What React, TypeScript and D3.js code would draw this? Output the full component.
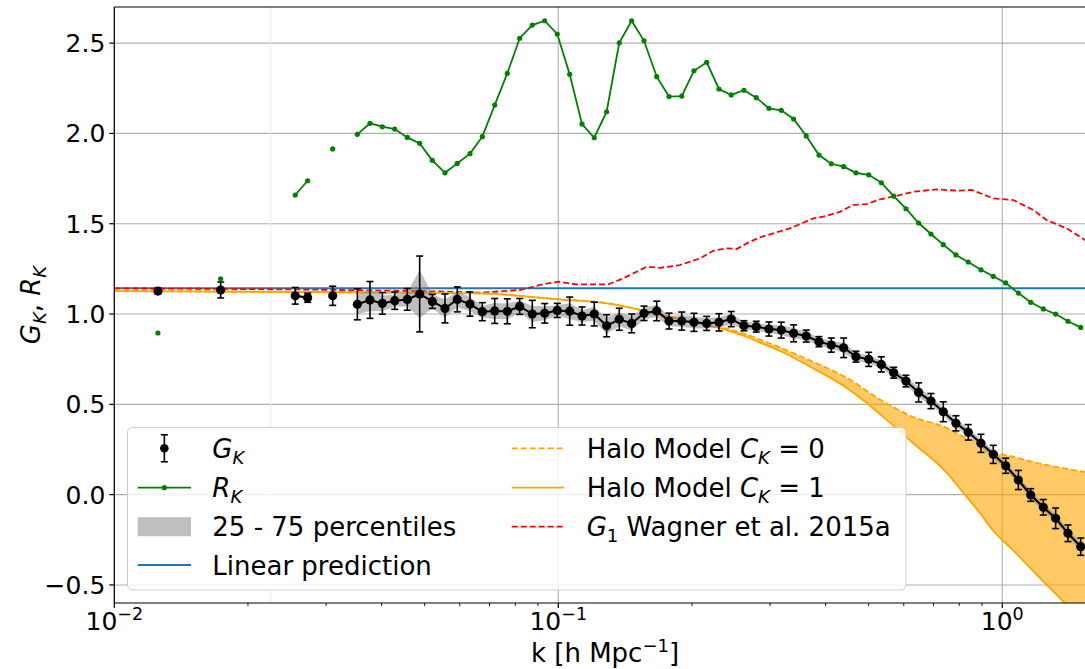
import React from 'react';
import * as d3 from 'd3';

// Wavenumber bins k [h/Mpc]
const kBins = [0.01254, 0.01736, 0.02556, 0.02726, 0.03104, 0.03527, 0.03766, 0.04016, 0.04282, 0.0457,
  0.04873, 0.05203, 0.05557, 0.05922, 0.06326, 0.06743, 0.07191, 0.07677, 0.08187, 0.08739,
  0.0932, 0.09948, 0.1061, 0.1131, 0.1205, 0.1285, 0.1372, 0.1463, 0.156, 0.1666,
  0.1776, 0.1897, 0.2021, 0.2159, 0.2301, 0.2452, 0.2619, 0.2792, 0.2982, 0.3178,
  0.3389, 0.3618, 0.3865, 0.412, 0.4393, 0.4682, 0.5002, 0.534, 0.5694, 0.6069,
  0.6481, 0.6908, 0.7364, 0.7865, 0.8383, 0.8953, 0.9544, 1.018, 1.087, 1.159,
  1.237, 1.319, 1.406, 1.502];

// Measured tidal response G_K with error bars
const gK = [1.127, 1.133, 1.101, 1.09, 1.101, 1.054, 1.078, 1.059, 1.074, 1.081,
  1.111, 1.07, 1.031, 1.081, 1.055, 1.013, 1.017, 1.015, 1.042, 1.0,
  1.004, 1.02, 1.016, 0.989, 1.0, 0.935, 0.971, 0.948, 1.004, 1.017,
  0.961, 0.961, 0.954, 0.948, 0.954, 0.972, 0.935, 0.93, 0.917, 0.911,
  0.893, 0.878, 0.847, 0.828, 0.813, 0.764, 0.749, 0.721, 0.675, 0.629,
  0.566, 0.518, 0.459, 0.395, 0.345, 0.284, 0.223, 0.16, 0.081, -0.002,
  -0.07, -0.131, -0.214, -0.288];
const gKErr = [0.015, 0.044, 0.046, 0.025, 0.053, 0.086, 0.102, 0.06, 0.048, 0.06,
  0.21, 0.039, 0.08, 0.069, 0.067, 0.05, 0.069, 0.069, 0.044, 0.076,
  0.054, 0.039, 0.078, 0.05, 0.066, 0.061, 0.061, 0.052, 0.04, 0.054,
  0.044, 0.05, 0.05, 0.039, 0.048, 0.042, 0.028, 0.03, 0.039, 0.044,
  0.047, 0.033, 0.028, 0.039, 0.054, 0.03, 0.039, 0.042, 0.03, 0.032,
  0.053, 0.042, 0.055, 0.042, 0.043, 0.05, 0.05, 0.042, 0.053, 0.035,
  0.043, 0.057, 0.046, 0.048];
// Half width of the 25-75 percentile range
const gKIqrHalf = [0.005, 0.005, 0.008, 0.008, 0.008, 0.055, 0.061, 0.044, 0.033, 0.039,
  0.133, 0.039, 0.05, 0.044, 0.039, 0.033, 0.044, 0.044, 0.033, 0.044,
  0.039, 0.028, 0.044, 0.033, 0.039, 0.044, 0.039, 0.039, 0.033, 0.033,
  0.028, 0.033, 0.033, 0.028, 0.028, 0.028, 0.022, 0.022, 0.022, 0.028,
  0.028, 0.022, 0.022, 0.022, 0.028, 0.022, 0.022, 0.022, 0.022, 0.022,
  0.028, 0.022, 0.022, 0.022, 0.022, 0.022, 0.022, 0.022, 0.022, 0.022,
  0.022, 0.022, 0.022, 0.022];

// R_K
const rK = [0.895, 1.195, 1.659, 1.738, 1.914, 1.995, 2.056, 2.037, 2.024, 1.978,
  1.945, 1.851, 1.782, 1.834, 1.888, 1.982, 2.157, 2.333, 2.527, 2.6,
  2.624, 2.55, 2.327, 2.052, 1.976, 2.12, 2.502, 2.624, 2.513, 2.314,
  2.204, 2.207, 2.347, 2.394, 2.246, 2.213, 2.239, 2.198, 2.139, 2.128,
  2.08, 1.986, 1.88, 1.832, 1.816, 1.782, 1.771, 1.727, 1.653, 1.583,
  1.504, 1.443, 1.384, 1.327, 1.288, 1.245, 1.209, 1.172, 1.116, 1.065,
  1.028, 1.0, 0.96, 0.926];

// Halo model predictions
const haloK = [0.01, 0.0262, 0.0666, 0.0998, 0.1287, 0.145, 0.1669, 0.1879, 0.2231, 0.2475,
  0.2661, 0.2846, 0.3158, 0.3747, 0.447, 0.5304, 0.6293, 0.7507, 0.817, 0.8907,
  0.9544, 1.057, 1.216, 1.384, 1.6];
const haloC1 = [1.127, 1.122, 1.114, 1.081, 1.059, 1.035, 0.998, 0.972, 0.93, 0.9,
  0.873, 0.842, 0.795, 0.7, 0.59, 0.446, 0.286, 0.12, 0.01, -0.102,
  -0.2, -0.307, -0.462, -0.601, -0.77];
const haloC0 = [1.127, 1.122, 1.114, 1.082, 1.06, 1.036, 1.0, 0.975, 0.936, 0.91,
  0.886, 0.858, 0.815, 0.736, 0.646, 0.527, 0.431, 0.369, 0.321, 0.28,
  0.238, 0.21, 0.172, 0.145, 0.118];

// G_1 from Wagner et al. 2015a
const wagnerK = [0.01, 0.0156, 0.0262, 0.0397, 0.0541, 0.0666, 0.082, 0.0909, 0.1, 0.11,
  0.1296, 0.1401, 0.1582, 0.1695, 0.1879, 0.2085, 0.2234, 0.2394, 0.2522, 0.2657,
  0.2846, 0.305, 0.3325, 0.3502, 0.3753, 0.3953, 0.431, 0.4616, 0.495, 0.5304,
  0.5682, 0.6303, 0.7116, 0.7894, 0.8533, 0.9544, 1.059, 1.175, 1.259, 1.397,
  1.536, 1.6];
const wagnerG1 = [1.142, 1.14, 1.136, 1.13, 1.125, 1.118, 1.133, 1.161, 1.179, 1.164,
  1.164, 1.198, 1.262, 1.256, 1.271, 1.308, 1.35, 1.364, 1.36, 1.391,
  1.425, 1.447, 1.474, 1.498, 1.53, 1.539, 1.566, 1.604, 1.609, 1.635,
  1.65, 1.677, 1.69, 1.683, 1.687, 1.641, 1.631, 1.576, 1.52, 1.474,
  1.41, 1.38];

const linearG = 8 / 7;
const markerK = 0.0225;

const yTicks = [-0.5, 0.0, 0.5, 1.0, 1.5, 2.0, 2.5];
const xMajor = [0.01, 0.1, 1];
const xMajorExp = ['\u22122', '\u22121', '0'];
const xMinor = [0.02, 0.03, 0.04, 0.05, 0.06, 0.07, 0.08, 0.09, 0.2, 0.3, 0.4, 0.5, 0.6, 0.7, 0.8, 0.9];

const W = 1085;
const H = 669;
const LEFT = 114.3;
const TOP = 7;
const BOTTOM = 603;
const RIGHT = 1092.9;
const FONT = 'DejaVu Sans';

const ORANGE = '#ffa500';
const GREEN = '#008000';
const BLUE = '#1f77b4';

export default function App() {
  const x = d3.scaleLog().domain([0.01, 1.6]).range([LEFT, RIGHT]);
  const y = d3.scaleLinear().domain([-0.6, 2.7]).range([BOTTOM, TOP]);

  // split points into runs of adjacent bins
  const seg: number[] = [];
  kBins.forEach((k, i) => {
    if (i === 0) seg.push(0);
    else seg.push(Math.log10(k / kBins[i - 1]) > 0.04 ? seg[i - 1] + 1 : seg[i - 1]);
  });
  const runs: number[][] = [];
  seg.forEach((s, i) => {
    if (!runs[s]) runs[s] = [];
    runs[s].push(i);
  });

  const lineIdx = (vals: number[]) =>
    d3.line<number>().x((i) => x(kBins[i])).y((i) => y(vals[i]));
  const bandArea = d3
    .area<number>()
    .x((i) => x(kBins[i]))
    .y0((i) => y(gK[i] - gKIqrHalf[i]))
    .y1((i) => y(gK[i] + gKIqrHalf[i]));

  const haloIdx = haloK.map((_, i) => i);
  const haloFill = d3
    .area<number>()
    .curve(d3.curveMonotoneX)
    .x((i) => x(haloK[i]))
    .y0((i) => y(haloC1[i]))
    .y1((i) => y(haloC0[i]));
  const haloLine = (vals: number[]) =>
    d3.line<number>().curve(d3.curveMonotoneX).x((i) => x(haloK[i])).y((i) => y(vals[i]));
  const wagnerLine = d3
    .line<number>()
    .x((i) => x(wagnerK[i]))
    .y((i) => y(wagnerG1[i]));

  const idx = kBins.map((_, i) => i);

  // legend geometry
  const lg = { x: 127.5, y: 427.5, w: 778.5, h: 162.5 };
  const rows = [448.3, 487.7, 526.7, 565];
  const h1 = [137.7, 191];
  const h2 = [511.7, 564];
  const t1 = 212.3;
  const t2 = 586.7;
  const base = 9.5;

  return (
    <div style={{ position: 'absolute', left: 0, top: 0 }}>
      <svg width={W} height={H} style={{ display: 'block', background: '#fff' }} fontFamily={FONT}>
        <defs>
          <clipPath id="plotArea">
            <rect x={LEFT} y={TOP} width={RIGHT - LEFT} height={BOTTOM - TOP} />
          </clipPath>
        </defs>
        <rect x={0} y={0} width={W} height={H} fill="#fff" />

        {/* grid */}
        <g stroke="#b0b0b0" strokeWidth={1.1}>
          {yTicks.map((t) => (
            <line key={'gy' + t} x1={LEFT} x2={RIGHT} y1={y(t)} y2={y(t)} />
          ))}
          {xMajor.map((t) => (
            <line key={'gx' + t} x1={x(t)} x2={x(t)} y1={TOP} y2={BOTTOM} />
          ))}
        </g>
        <line x1={x(markerK)} x2={x(markerK)} y1={TOP} y2={BOTTOM} stroke="#ececec" strokeWidth={1} />

        <g clipPath="url(#plotArea)">
          {/* linear prediction */}
          <line x1={LEFT} x2={RIGHT} y1={y(linearG)} y2={y(linearG)} stroke={BLUE} strokeWidth={1.8} />

          {/* Wagner et al. G_1 */}
          <path
            d={wagnerLine(wagnerK.map((_, i) => i)) || ''}
            fill="none"
            stroke="#ff0000"
            strokeWidth={1.8}
            strokeDasharray="6,3"
          />

          {/* halo model band */}
          <path d={haloFill(haloIdx) || ''} fill={ORANGE} fillOpacity={0.6} stroke="none" />
          <path d={haloLine(haloC0)(haloIdx) || ''} fill="none" stroke={ORANGE} strokeWidth={1.8} strokeDasharray="6,3" />
          <path d={haloLine(haloC1)(haloIdx) || ''} fill="none" stroke={ORANGE} strokeWidth={1.8} />

          {/* 25-75 percentile band */}
          {runs.map((r, j) =>
            r.length > 1 ? (
              <path key={'band' + j} d={bandArea(r) || ''} fill="#808080" fillOpacity={0.5} stroke="none" />
            ) : null
          )}

          {/* G_K */}
          {runs.map((r, j) =>
            r.length > 1 ? (
              <path key={'gl' + j} d={lineIdx(gK)(r) || ''} fill="none" stroke="#000" strokeWidth={2} />
            ) : null
          )}
          <g stroke="#000" strokeWidth={1.6}>
            {idx.map((i) => {
              const cx = x(kBins[i]);
              const yl = y(gK[i] - gKErr[i]);
              const yh = y(gK[i] + gKErr[i]);
              return (
                <g key={'eb' + i}>
                  <line x1={cx} x2={cx} y1={yl} y2={yh} />
                  <line x1={cx - 3.5} x2={cx + 3.5} y1={yl} y2={yl} />
                  <line x1={cx - 3.5} x2={cx + 3.5} y1={yh} y2={yh} />
                </g>
              );
            })}
          </g>
          {idx.map((i) => (
            <circle key={'gd' + i} cx={x(kBins[i])} cy={y(gK[i])} r={4.6} fill="#000" />
          ))}

          {/* R_K */}
          {runs.map((r, j) =>
            r.length > 1 ? (
              <path key={'rl' + j} d={lineIdx(rK)(r) || ''} fill="none" stroke={GREEN} strokeWidth={1.8} />
            ) : null
          )}
          {idx.map((i) => (
            <circle key={'rd' + i} cx={x(kBins[i])} cy={y(rK[i])} r={2.6} fill={GREEN} />
          ))}
        </g>

        {/* spines */}
        <g stroke="#000" strokeWidth={1.2} fill="none">
          <line x1={LEFT} x2={LEFT} y1={TOP} y2={BOTTOM} />
          <line x1={LEFT} x2={RIGHT} y1={BOTTOM} y2={BOTTOM} />
          <line x1={LEFT} x2={RIGHT} y1={TOP} y2={TOP} />
          <line x1={RIGHT} x2={RIGHT} y1={TOP} y2={BOTTOM} />
        </g>

        {/* y ticks */}
        <g>
          {yTicks.map((t) => (
            <g key={'yt' + t}>
              <line x1={LEFT - 5} x2={LEFT} y1={y(t)} y2={y(t)} stroke="#000" strokeWidth={1.2} />
              <text x={LEFT - 9} y={y(t) + 9} textAnchor="end" fontSize={25} fill="#000">
                {t < 0 ? '\u2212' + Math.abs(t).toFixed(1) : t.toFixed(1)}
              </text>
            </g>
          ))}
        </g>

        {/* x ticks */}
        <g>
          {xMinor.map((t) => (
            <line key={'xm' + t} x1={x(t)} x2={x(t)} y1={BOTTOM} y2={BOTTOM + 3} stroke="#000" strokeWidth={0.9} />
          ))}
          {xMajor.map((t, i) => (
            <g key={'xt' + t}>
              <line x1={x(t)} x2={x(t)} y1={BOTTOM} y2={BOTTOM + 5} stroke="#000" strokeWidth={1.2} />
              <text x={x(t)} y={630} textAnchor="middle" fontSize={25} fill="#000">
                10<tspan fontSize={17.5} dy={-10}>{xMajorExp[i]}</tspan>
              </text>
            </g>
          ))}
        </g>

        {/* axis labels */}
        <text x={605} y={662} textAnchor="middle" fontSize={26} fill="#000">
          k [h Mpc<tspan fontSize={18} dy={-10}>{'\u22121'}</tspan>
          <tspan dy={10}>]</tspan>
        </text>
        <text transform="translate(40,305) rotate(-90)" textAnchor="middle" fontSize={26} fill="#000">
          <tspan fontStyle="italic">G</tspan>
          <tspan fontStyle="italic" fontSize={18} dy={6}>K</tspan>
          <tspan dy={-6}>, </tspan>
          <tspan fontStyle="italic">R</tspan>
          <tspan fontStyle="italic" fontSize={18} dy={6}>K</tspan>
        </text>

        {/* legend */}
        <rect x={lg.x} y={lg.y} width={lg.w} height={lg.h} rx={5} fill="#fff" fillOpacity={0.8} stroke="#cccccc" strokeWidth={1} />
        {/* G_K handle */}
        <g stroke="#000" strokeWidth={1.6}>
          <line x1={(h1[0] + h1[1]) / 2} x2={(h1[0] + h1[1]) / 2} y1={rows[0] - 13.5} y2={rows[0] + 13.5} />
          <line x1={(h1[0] + h1[1]) / 2 - 3.5} x2={(h1[0] + h1[1]) / 2 + 3.5} y1={rows[0] - 13.5} y2={rows[0] - 13.5} />
          <line x1={(h1[0] + h1[1]) / 2 - 3.5} x2={(h1[0] + h1[1]) / 2 + 3.5} y1={rows[0] + 13.5} y2={rows[0] + 13.5} />
        </g>
        <circle cx={(h1[0] + h1[1]) / 2} cy={rows[0]} r={4.3} fill="#000" />
        <text x={t1} y={rows[0] + base} fontSize={26} fill="#000">
          <tspan fontStyle="italic">G</tspan>
          <tspan fontStyle="italic" fontSize={18} dy={6}>K</tspan>
        </text>
        {/* R_K handle */}
        <line x1={h1[0]} x2={h1[1]} y1={rows[1]} y2={rows[1]} stroke={GREEN} strokeWidth={1.8} />
        <circle cx={(h1[0] + h1[1]) / 2} cy={rows[1]} r={2.6} fill={GREEN} />
        <text x={t1} y={rows[1] + base} fontSize={26} fill="#000">
          <tspan fontStyle="italic">R</tspan>
          <tspan fontStyle="italic" fontSize={18} dy={6}>K</tspan>
        </text>
        {/* percentile patch */}
        <rect x={h1[0]} y={rows[2] - 9.5} width={h1[1] - h1[0]} height={19} fill="#808080" fillOpacity={0.5} />
        <text x={t1} y={rows[2] + base} fontSize={26} fill="#000">25 - 75 percentiles</text>
        {/* linear */}
        <line x1={h1[0]} x2={h1[1]} y1={rows[3]} y2={rows[3]} stroke={BLUE} strokeWidth={1.8} />
        <text x={t1} y={rows[3] + base} fontSize={26} fill="#000">Linear prediction</text>

        {/* right column */}
        <line x1={h2[0]} x2={h2[1]} y1={rows[0]} y2={rows[0]} stroke={ORANGE} strokeWidth={1.8} strokeDasharray="6,3" />
        <text x={t2} y={rows[0] + base} fontSize={26} fill="#000">
          Halo Model <tspan fontStyle="italic">C</tspan>
          <tspan fontStyle="italic" fontSize={18} dy={6}>K</tspan>
          <tspan dy={-6}> = 0</tspan>
        </text>
        <line x1={h2[0]} x2={h2[1]} y1={rows[1]} y2={rows[1]} stroke={ORANGE} strokeWidth={1.8} />
        <text x={t2} y={rows[1] + base} fontSize={26} fill="#000">
          Halo Model <tspan fontStyle="italic">C</tspan>
          <tspan fontStyle="italic" fontSize={18} dy={6}>K</tspan>
          <tspan dy={-6}> = 1</tspan>
        </text>
        <line x1={h2[0]} x2={h2[1]} y1={rows[2]} y2={rows[2]} stroke="#ff0000" strokeWidth={1.8} strokeDasharray="6,3" />
        <text x={t2} y={rows[2] + base} fontSize={26} fill="#000">
          <tspan fontStyle="italic">G</tspan>
          <tspan fontSize={18} dy={6}>1</tspan>
          <tspan dy={-6}> Wagner et al. 2015a</tspan>
        </text>
      </svg>
    </div>
  );
}
